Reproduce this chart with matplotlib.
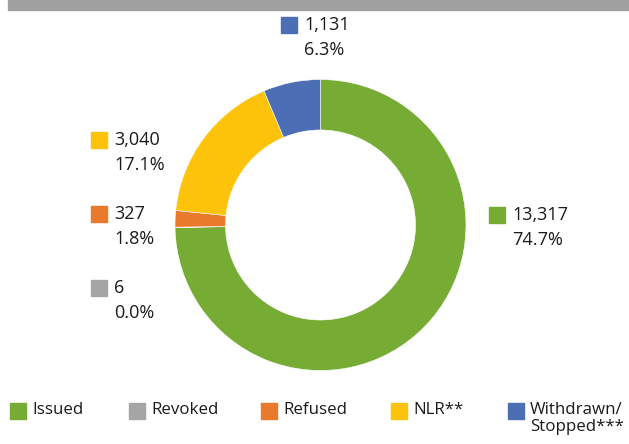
import numpy as np
import matplotlib
matplotlib.use("Agg")
import matplotlib.pyplot as plt
from matplotlib.patches import Rectangle

plt.rcParams['font.family'] = ['Open Sans', 'DejaVu Sans']

categories = ['Issued', 'Revoked', 'Refused', 'NLR**', 'Withdrawn/\nStopped***']
values = [13317, 6, 327, 3040, 1131]
colors = ['#76AB34', '#A5A5A5', '#E97A2C', '#FDC20A', '#4B6EB4']

W, H = 629, 444
fig = plt.figure(figsize=(W / 100, H / 100), dpi=100)

def fx(x):
    return x / W

def fy(y):
    return 1 - y / H

# grey band on top
fig.patches.append(Rectangle((fx(8), fy(10)), 1 - fx(8), 10 / H,
                             transform=fig.transFigure, color='#A0A0A0', zorder=0))

# donut
cx, cy, R = 320.5, 225, 145.5
ax = fig.add_axes([fx(cx - R), fy(cy + R), 2 * R / W, 2 * R / H])
ax.pie(values, colors=colors, startangle=90, counterclock=False, radius=1,
       wedgeprops=dict(width=0.347, edgecolor='white', linewidth=0.4))
ax.set_xlim(-1, 1)
ax.set_ylim(-1, 1)
ax.axis('off')

# data labels (square marker + value + percentage)
total = sum(values)
label_pos = [(489, 215), (91, 288), (91, 214), (91, 140), (281, 25)]
for v, c, (x, y) in zip(values, colors, label_pos):
    fig.patches.append(Rectangle((fx(x), fy(y + 8)), 16 / W, 16 / H,
                                 transform=fig.transFigure, color=c))
    fig.text(fx(x + 23), fy(y), f"{v:,}", fontsize=13, va='center', ha='left', color='#1a1a1a')
    fig.text(fx(x + 23), fy(y + 25), f"{100 * v / total:.1f}%", fontsize=13,
             va='center', ha='left', color='#1a1a1a')

# legend
leg_x = [10, 129, 261, 391, 508]
leg_y = 411
for name, c, x in zip(categories, colors, leg_x):
    fig.patches.append(Rectangle((fx(x), fy(leg_y + 8)), 16 / W, 16 / H,
                                 transform=fig.transFigure, color=c))
    fig.text(fx(x + 22), fy(leg_y - 9), name, fontsize=12.2, va='top', ha='left',
             color='#1a1a1a', linespacing=1.05)

fig.savefig('out.png', dpi=100)
